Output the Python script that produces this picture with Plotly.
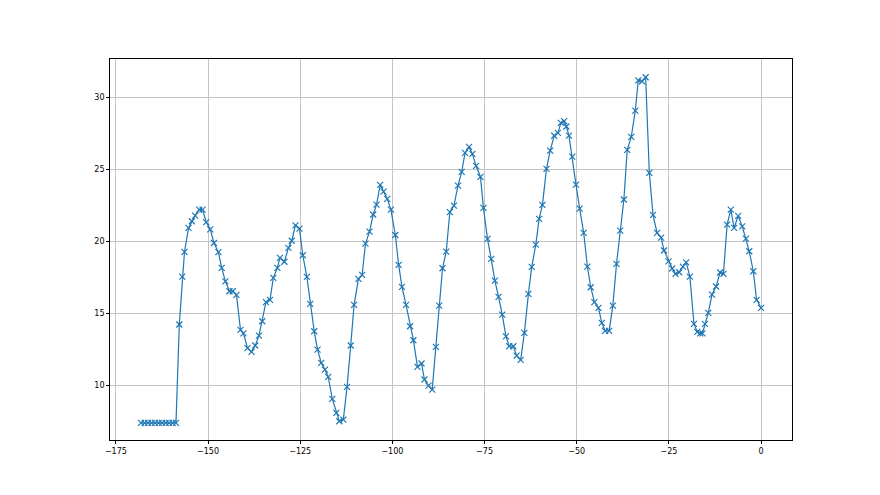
import plotly.graph_objects as go

# x positions and values
x_vals = [
    -168.2, -167.2, -166.3, -165.3, -164.4, -163.4, -162.5, -161.5, -160.6, -159.6, -158.7,
    -157.8, -157.0, -156.4, -155.3, -154.4, -153.5, -152.4, -151.5, -150.5, -149.4,
    -148.4, -147.2, -146.3, -145.3, -144.2, -143.3, -142.3, -141.2, -140.4, -139.3,
    -138.2, -137.2, -136.2, -135.3, -134.3, -133.2, -132.3, -131.2, -130.5, -129.3,
    -128.2, -127.3, -126.3, -125.2, -124.3, -123.2, -122.3, -121.2, -120.3, -119.3,
    -118.3, -117.4, -116.3, -115.2, -114.4, -113.3, -112.3, -111.3, -110.4, -109.2,
    -108.2, -107.3, -106.2, -105.2, -104.3, -103.3, -102.4, -101.4, -100.4, -99.2,
    -98.3, -97.4, -96.3, -95.2, -94.3, -93.2, -92.1, -91.3, -90.2, -89.2,
    -88.2, -87.3, -86.4, -85.4, -84.4, -83.3, -82.2, -81.2, -80.3, -79.2,
    -78.3, -77.3, -76.1, -75.3, -74.2, -73.2, -72.2, -71.2, -70.2, -69.2,
    -68.3, -67.2, -66.3, -65.2, -64.2, -63.1, -62.2, -61.1, -60.2, -59.3,
    -58.2, -57.2, -56.1, -55.1, -54.3, -53.4, -52.8, -52.1, -51.2, -50.2,
    -49.2, -48.1, -47.1, -46.2, -45.2, -44.1, -43.2, -42.3, -41.2, -40.2,
    -39.2, -38.2, -37.2, -36.3, -35.2, -34.1, -33.3, -32.3, -31.3, -30.3,
    -29.3, -28.2, -27.1, -26.3, -25.1, -24.1, -23.2, -22.2, -21.2, -20.3,
    -19.3, -18.2, -17.3, -16.5, -15.9, -15.2, -14.3, -13.3, -12.2, -11.1,
    -10.2, -9.2, -8.2, -7.3, -6.2, -5.1, -4.1, -3.2, -2.1, -1.2, 0.0,
]

y_vals = [
    7.41, 7.41, 7.41, 7.41, 7.41, 7.41, 7.41, 7.41, 7.41, 7.41, 7.41,
    14.24, 17.57, 19.28, 20.95, 21.41, 21.8, 22.22, 22.22, 21.35, 20.85,
    19.9, 19.27, 18.17, 17.24, 16.55, 16.55, 16.3, 13.87, 13.63, 12.6,
    12.34, 12.78, 13.47, 14.47, 15.8, 15.95, 17.48, 18.17, 18.87, 18.6,
    19.56, 20.06, 21.13, 20.9, 19.05, 17.55, 15.67, 13.77, 12.5, 11.58,
    11.11, 10.6, 9.08, 8.1, 7.52, 7.64, 9.91, 12.78, 15.6, 17.41,
    17.69, 19.86, 20.69, 21.88, 22.57, 23.94, 23.47, 22.97, 22.22, 20.46,
    18.38, 16.85, 15.6, 14.12, 13.15, 11.3, 11.53, 10.42, 10.0, 9.72,
    12.69, 15.55, 18.15, 19.3, 22.05, 22.5, 23.89, 24.84, 26.16, 26.58,
    26.09, 25.26, 24.49, 22.34, 20.19, 18.8, 17.29, 16.16, 14.93, 13.42,
    12.73, 12.73, 12.08, 11.78, 13.66, 16.37, 18.24, 19.79, 21.58, 22.55,
    25.05, 26.32, 27.35, 27.55, 28.24, 28.36, 27.99, 27.36, 25.9, 23.96,
    22.29, 20.6, 18.26, 16.83, 15.8, 15.4, 14.35, 13.8, 13.8, 15.55,
    18.45, 20.76, 22.92, 26.37, 27.27, 29.1, 31.2, 31.13, 31.41, 24.77,
    21.85, 20.6, 20.28, 19.38, 18.63, 18.13, 17.76, 17.87, 18.26, 18.56,
    17.57, 14.28, 13.73, 13.63, 13.63, 14.28, 15.05, 16.32, 16.88, 17.85,
    17.76, 21.18, 22.22, 20.95, 21.78, 21.06, 20.2, 19.33, 17.94, 15.95, 15.4,
]

x_ticks = [-175, -150, -125, -100, -75, -50, -25, 0]
y_ticks = [10, 15, 20, 25, 30]

fig = go.Figure()
fig.add_trace(go.Scatter(
    x=x_vals, y=y_vals, mode="lines+markers",
    line=dict(color="#1f77b4", width=1.2),
    marker=dict(symbol="x-thin", size=6, color="#1f77b4",
                line=dict(width=1.2, color="#1f77b4")),
    showlegend=False,
))

axis_common = dict(
    showgrid=True, gridcolor="#c4c4c4", gridwidth=0.8,
    zeroline=False, showline=True, linecolor="black", linewidth=0.8,
    mirror=True, ticks="outside", ticklen=3, tickwidth=0.8, tickcolor="black",
    tickfont=dict(family="DejaVu Sans", size=8, color="black"),
)

fig.update_xaxes(range=[-176.6, 8.4], tickvals=x_ticks, **axis_common)
fig.update_yaxes(range=[6.22, 32.68], tickvals=y_ticks, **axis_common)

fig.update_layout(
    width=872, height=487,
    margin=dict(l=102, r=88, t=51, b=55),
    paper_bgcolor="white", plot_bgcolor="white",
)

fig.write_html("out.html")
